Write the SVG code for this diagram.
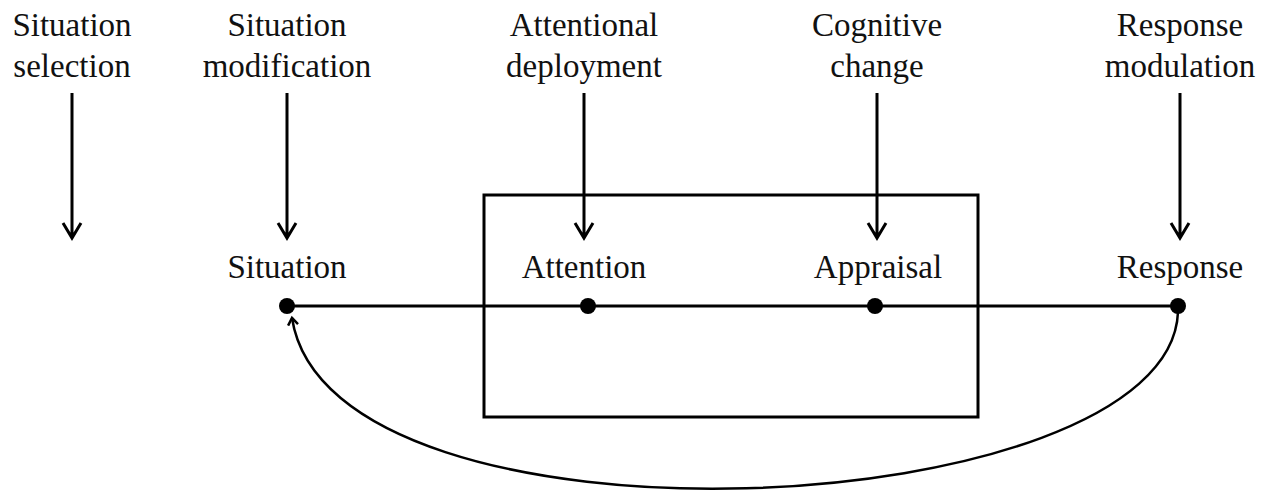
<svg xmlns="http://www.w3.org/2000/svg" width="1275" height="490" viewBox="0 0 1275 490">
<style>
text{font-family:"Liberation Serif","Times New Roman",serif;font-size:33px;fill:#111;text-anchor:middle}
.ln{stroke:#000;stroke-width:3;fill:none}
.dot{fill:#000}
</style>
<defs>
<marker id="ah2" markerUnits="userSpaceOnUse" viewBox="-8 -8 16 16" refX="0" refY="0" markerWidth="16" markerHeight="16" orient="auto">
<path d="M-7,-5 L0,0 L-7,5" fill="none" stroke="#000" stroke-width="2.5"/>
</marker>
</defs>
<rect width="1275" height="490" fill="#fff"/>
<g id="regulation-labels">
<g id="situation-selection"><text x="72" y="36">Situation</text><text x="72" y="77">selection</text></g>
<g id="situation-modification"><text x="287" y="36">Situation</text><text x="287" y="77">modification</text></g>
<g id="attentional-deployment"><text x="584" y="36">Attentional</text><text x="584" y="77">deployment</text></g>
<g id="cognitive-change"><text x="877" y="36">Cognitive</text><text x="877" y="77">change</text></g>
<g id="response-modulation"><text x="1180" y="36">Response</text><text x="1180" y="77">modulation</text></g>
</g>
<g id="box"><rect x="484" y="195" width="494" height="222" class="ln"/></g>
<g id="connectors">
<line x1="287" y1="306" x2="1178" y2="306" class="ln"/>
<path d="M72,93 V238 M63,223 L72,238 L81,223" class="ln"/>
<path d="M287,93 V238 M278,223 L287,238 L296,223" class="ln"/>
<path d="M584,93 V238 M575,223 L584,238 L593,223" class="ln"/>
<path d="M877,93 V238 M868,223 L877,238 L886,223" class="ln"/>
<path d="M1180,93 V238 M1171,223 L1180,238 L1189,223" class="ln"/>
<path d="M1178,312 C1170,525 330,567 292,318" fill="none" stroke="#000" stroke-width="2.5" marker-end="url(#ah2)"/>
</g>
<g id="situation"><text x="287" y="278">Situation</text><circle class="dot" cx="287" cy="306" r="8"/></g>
<g id="attention"><text x="584" y="278">Attention</text><circle class="dot" cx="588" cy="306" r="8"/></g>
<g id="appraisal"><text x="878" y="278">Appraisal</text><circle class="dot" cx="875" cy="306" r="8"/></g>
<g id="response"><text x="1180" y="278">Response</text><circle class="dot" cx="1178" cy="306" r="8"/></g>
</svg>
